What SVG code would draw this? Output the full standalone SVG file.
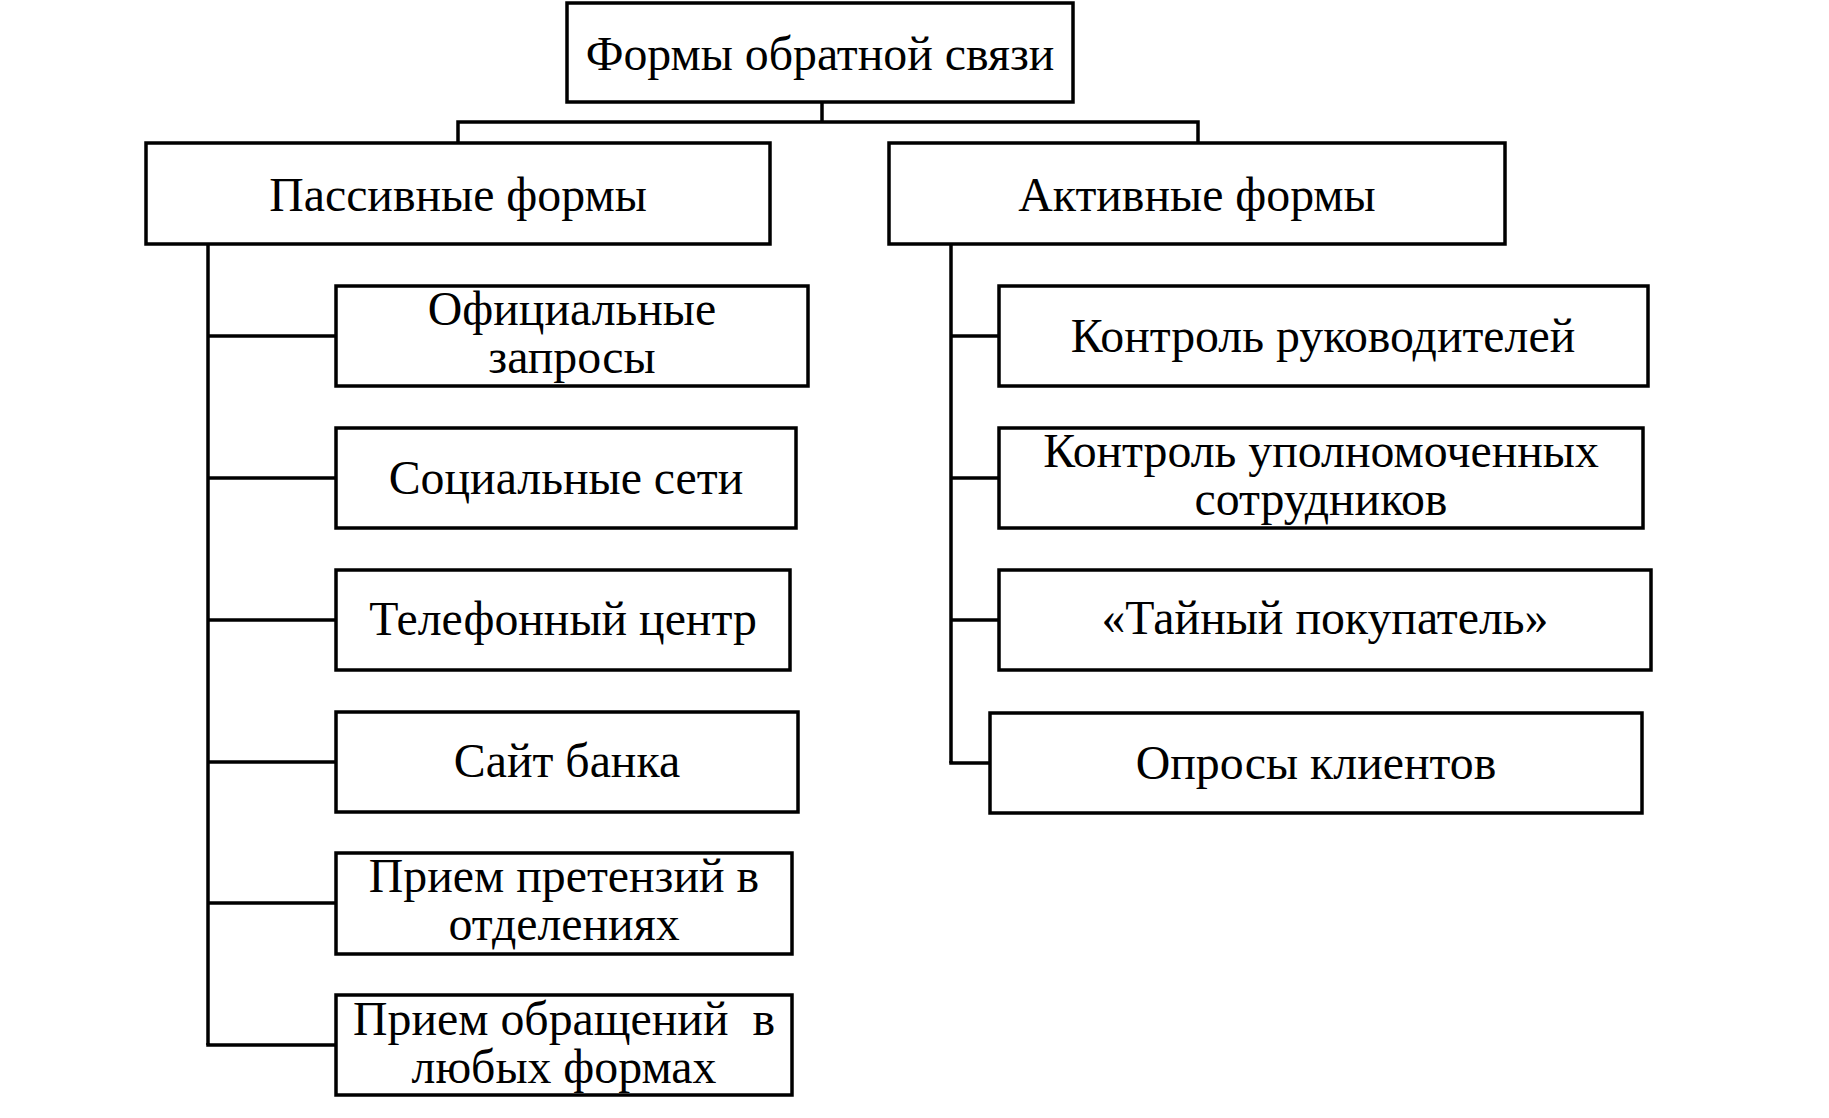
<svg xmlns="http://www.w3.org/2000/svg" width="1829" height="1118" viewBox="0 0 1829 1118">
<style>
.box{fill:#fff;stroke:#000;stroke-width:3.5}
.ln{fill:none;stroke:#000;stroke-width:3.5}
text{font-family:"Liberation Serif","Times New Roman",serif;font-size:47.8px;fill:#000;text-anchor:middle}
</style>
<rect width="1829" height="1118" fill="#fff"/>
<g id="connectors">
<polyline class="ln" points="822,102 822,122"/>
<polyline class="ln" points="458,143 458,122 1198,122 1198,143"/>
<polyline class="ln" points="208,244 208,1045"/>
<line class="ln" x1="208" y1="336" x2="336" y2="336"/>
<line class="ln" x1="208" y1="478" x2="336" y2="478"/>
<line class="ln" x1="208" y1="620" x2="336" y2="620"/>
<line class="ln" x1="208" y1="762" x2="336" y2="762"/>
<line class="ln" x1="208" y1="903" x2="336" y2="903"/>
<polyline class="ln" points="208,1043 208,1045 336,1045"/>
<polyline class="ln" points="951,244 951,763"/>
<line class="ln" x1="951" y1="336" x2="999" y2="336"/>
<line class="ln" x1="951" y1="478" x2="999" y2="478"/>
<line class="ln" x1="951" y1="620" x2="999" y2="620"/>
<polyline class="ln" points="951,761 951,763 990,763"/>
</g>
<g id="root"><rect class="box" x="567" y="3" width="506" height="99"/><text x="820" y="70">Формы обратной связи</text></g>
<g id="passive"><rect class="box" x="146" y="143" width="624" height="101"/><text x="458" y="211">Пассивные формы</text></g>
<g id="active"><rect class="box" x="889" y="143" width="616" height="101"/><text x="1197" y="211">Активные формы</text></g>
<g id="p1"><rect class="box" x="336" y="286" width="472" height="100"/><text x="572" y="325">Официальные</text><text x="572" y="373">запросы</text></g>
<g id="p2"><rect class="box" x="336" y="428" width="460" height="100"/><text x="566" y="494">Социальные сети</text></g>
<g id="p3"><rect class="box" x="336" y="570" width="454" height="100"/><text x="563" y="635">Телефонный центр</text></g>
<g id="p4"><rect class="box" x="336" y="712" width="462" height="100"/><text x="567" y="777">Сайт банка</text></g>
<g id="p5"><rect class="box" x="336" y="853" width="456" height="101"/><text x="564" y="892">Прием претензий в</text><text x="564" y="940">отделениях</text></g>
<g id="p6"><rect class="box" x="336" y="995" width="456" height="100"/><text x="564" y="1035" xml:space="preserve">Прием обращений  в</text><text x="564" y="1083">любых формах</text></g>
<g id="a1"><rect class="box" x="999" y="286" width="649" height="100"/><text x="1323" y="352">Контроль руководителей</text></g>
<g id="a2"><rect class="box" x="999" y="428" width="644" height="100"/><text x="1321" y="467">Контроль уполномоченных</text><text x="1321" y="515">сотрудников</text></g>
<g id="a3"><rect class="box" x="999" y="570" width="652" height="100"/><text x="1325" y="634">«Тайный покупатель»</text></g>
<g id="a4"><rect class="box" x="990" y="713" width="652" height="100"/><text x="1316" y="779">Опросы клиентов</text></g>
</svg>
